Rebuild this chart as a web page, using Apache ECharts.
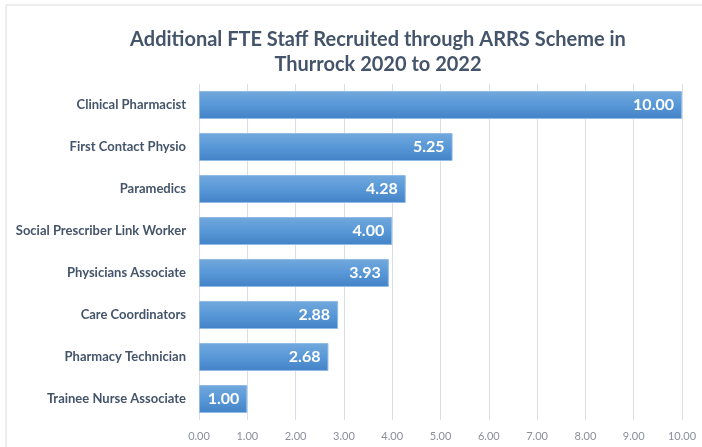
<!DOCTYPE html>
<html>
<head>
<meta charset="utf-8">
<script src="https://cdn.jsdelivr.net/npm/echarts@6/dist/echarts.min.js"></script>
<style>
  html, body { margin: 0; padding: 0; background: #fff; }
  #chart { width: 702px; height: 447px; }
</style>
</head>
<body>
<div id="chart"></div>
<script>
// categories from top to bottom as in the picture
const roles = [
  'Clinical Pharmacist',
  'First Contact Physio',
  'Paramedics',
  'Social Prescriber Link Worker',
  'Physicians Associate',
  'Care Coordinators',
  'Pharmacy Technician',
  'Trainee Nurse Associate'
];
const fteValues = [10.00, 5.25, 4.28, 4.00, 3.93, 2.88, 2.68, 1.00];
const chartTitle = 'Additional FTE Staff Recruited through ARRS Scheme in\nThurrock 2020 to 2022';

const chart = echarts.init(document.getElementById('chart'));

const barFill = new echarts.graphic.LinearGradient(0, 0, 0, 1, [
  { offset: 0, color: '#72a8dd' },
  { offset: 0.5, color: '#5898d7' },
  { offset: 1, color: '#4382c6' }
]);

chart.setOption({
  backgroundColor: '#fff',
  title: {
    text: chartTitle,
    left: 373,
    top: 22,
    textAlign: 'center',
    textStyle: {
      fontFamily: 'Lato',
      fontSize: 20,
      fontWeight: 'bold',
      color: '#44546a',
      lineHeight: 25
    }
  },
  graphic: [{
    type: 'rect',
    shape: { x: 6, y: 5, width: 720, height: 470 },
    style: { fill: 'none', stroke: '#d9d9d9', lineWidth: 1 },
    silent: true
  }],
  grid: { left: 199, right: 20, top: 84, bottom: 27, containLabel: false },
  xAxis: {
    type: 'value',
    min: 0,
    max: 10,
    interval: 1,
    axisLine: { show: false },
    axisTick: { show: false },
    splitLine: { lineStyle: { color: '#d9dde6', width: 1 } },
    axisLabel: {
      formatter: v => v.toFixed(2),
      color: '#8a8f99',
      fontFamily: 'Lato',
      fontSize: 11,
      margin: 11
    }
  },
  yAxis: {
    type: 'category',
    inverse: true,
    data: roles,
    axisLine: { show: false },
    axisTick: { show: false },
    axisLabel: {
      color: '#44546a',
      fontFamily: 'Lato',
      fontWeight: 'bold',
      fontSize: 13,
      margin: 13
    }
  },
  series: [{
    type: 'bar',
    data: fteValues,
    barWidth: 28,
    itemStyle: {
      color: barFill,
      borderColor: '#8fbbe6',
      borderWidth: 1
    },
    label: {
      show: true,
      position: 'insideRight',
      distance: 8,
      formatter: p => p.value.toFixed(2),
      color: '#fff',
      fontFamily: 'Lato',
      fontWeight: 'bold',
      fontSize: 16
    },
    silent: true
  }]
});
</script>
</body>
</html>
